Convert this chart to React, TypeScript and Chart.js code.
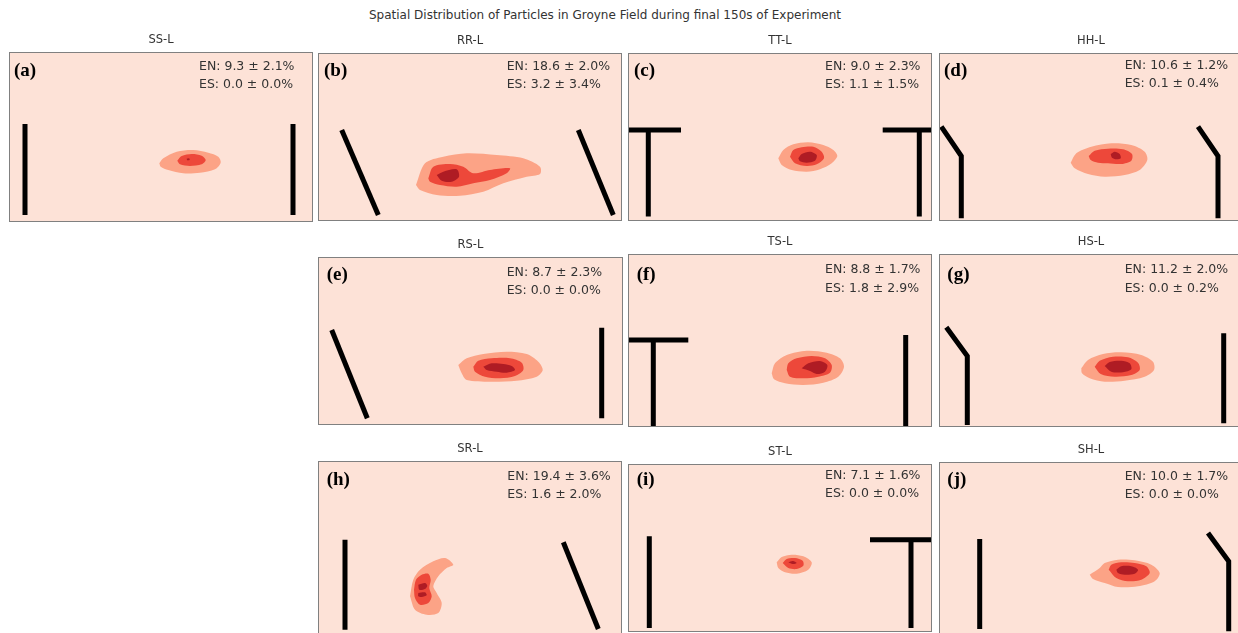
import React, { useEffect, useRef } from "react";
import { Chart, registerables } from "chart.js";

Chart.register(...registerables);

type Pt = [number, number];
type Poly = Pt[];

// ---- panel identity and statistics ----
const PANEL_LETTERS = ["a", "b", "c", "d", "e", "f", "g", "h", "i", "j"];
const PANEL_NAMES = ["SS-L", "RR-L", "TT-L", "HH-L", "RS-L", "TS-L", "HS-L", "SR-L", "ST-L", "SH-L"];
const EN_MEAN = [9.3, 18.6, 9.0, 10.6, 8.7, 8.8, 11.2, 19.4, 7.1, 10.0];
const EN_SD = [2.1, 2.0, 2.3, 1.2, 2.3, 1.7, 2.0, 3.6, 1.6, 1.7];
const ES_MEAN = [0.0, 3.2, 1.1, 0.1, 0.0, 1.8, 0.0, 1.6, 0.0, 0.0];
const ES_SD = [0.0, 3.4, 1.5, 0.4, 0.0, 2.9, 0.2, 2.0, 0.0, 0.0];

// ---- groyne geometry (field units, y measured downward from the top wall) ----
const GROYNES_A: Poly[] = [[[16, 72], [16, 163]], [[284, 72], [284, 163]]];
const GROYNES_B: Poly[] = [[[23.7, 77], [60.3, 162]], [[260.3, 77], [295.3, 162]]];
const GROYNES_C: Poly[] = [[[0, 77], [53, 77]], [[20.3, 77], [20.3, 163.5]], [[254.7, 77], [304, 77]], [[291.3, 77], [291.3, 163.5]]];
const GROYNES_D: Poly[] = [[[2.3, 73.7], [22.3, 103], [22.3, 165.3]], [[259, 73.7], [279, 103], [279, 165.3]]];
const GROYNES_E: Poly[] = [[[13.7, 73], [49.3, 161.3]], [[283.7, 70.7], [283.7, 161.3]]];
const GROYNES_F: Poly[] = [[[0, 86], [60.3, 86]], [[25.3, 86], [25.3, 172]], [[277.7, 81], [277.7, 172]]];
const GROYNES_G: Poly[] = [[[7.3, 73.3], [28.3, 102], [28.3, 171]], [[284.7, 79.3], [284.7, 169.3]]];
const GROYNES_H: Poly[] = [[[27, 78.7], [27, 168.7]], [[245.3, 81.3], [280.3, 168]]];
const GROYNES_I: Poly[] = [[[21.3, 72.3], [21.3, 164]], [[242, 75.7], [304, 75.7]], [[283, 75.7], [283, 164]]];
const GROYNES_J: Poly[] = [[[40.7, 77], [40.7, 167]], [[269, 71], [289.7, 99.3], [289.7, 169.3]]];

// ---- particle density contours: low / mid / high levels ----
const A_LOW: Poly[] = [[[150.3, 111.3], [154.3, 106.3], [167.7, 99.7], [184.3, 98], [199.3, 100.7], [209.3, 104.7], [211.7, 110.7], [206, 117.3], [191, 120.7], [174.3, 121.3], [159.3, 118], [151.7, 114.7]]];
const A_MID: Poly[] = [[[168.3, 108.7], [172.7, 104], [182.7, 102], [192.7, 103.7], [196.7, 108], [192.7, 112.3], [181, 114], [171, 112.3]]];
const A_HIGH: Poly[] = [[[177.8, 106.6], [180.3, 106.4], [180.6, 108], [178.1, 108.2]]];

const B_LOW: Poly[] = [[[98, 132], [107, 110.3], [125.3, 103.7], [148.7, 100.3], [178.7, 102], [205.3, 105.3], [222, 113.7], [222, 121], [208.7, 123.7], [185.3, 130.3], [165.3, 138.7], [142, 142.7], [118.7, 142], [102, 137]]];
const B_MID: Poly[] = [[[110.3, 125.3], [115.3, 113.7], [132, 111], [145.3, 113.7], [155.3, 120.3], [172, 117], [192, 115.3], [188.7, 120.3], [172, 127], [155.3, 130.3], [138.7, 133.7], [122, 132], [112, 128.7]]];
const B_HIGH: Poly[] = [[[118.7, 122], [125.3, 118.7], [138.7, 116.3], [141, 123.7], [133.7, 128.7], [123.7, 127.7]]];

const C_LOW: Poly[] = [[[150.3, 105.3], [155.3, 97], [165.3, 91.3], [180.3, 89.3], [195.3, 92], [205.3, 97], [209.3, 103], [203.7, 110.3], [192, 116.3], [178.7, 118.7], [163.7, 117], [153.7, 112]]];
const C_MID: Poly[] = [[[162, 103.7], [165.3, 97], [173.7, 94.3], [185.3, 93.7], [193.7, 98.7], [196, 105.3], [188.7, 111.3], [178.7, 113], [167, 110.3]]];
const C_HIGH: Poly[] = [[[170.3, 105.3], [173.7, 101], [182, 98.7], [188.7, 102], [187, 107.7], [178.7, 109.7], [172, 108.3]]];

const D_LOW: Poly[] = [[[131.7, 109.7], [137.3, 100.3], [152.3, 93.7], [172.3, 90.3], [192.3, 92], [205.7, 98.7], [208.3, 107], [200.7, 117], [185.7, 122], [165.7, 123.7], [149, 121], [135.7, 115.3]]];
const D_MID: Poly[] = [[[149.7, 103], [155.7, 97.7], [169, 95.7], [184, 96.3], [193, 101], [192.3, 107.7], [182.3, 111], [169, 110.3], [159, 109.7], [151.7, 107]]];
const D_HIGH: Poly[] = [[[171.7, 101], [175.7, 98.7], [180.7, 101], [181.7, 105.3], [177.3, 106.3], [173, 104.7]]];

const E_LOW: Poly[] = [[[140.3, 108], [148.7, 101.3], [165.3, 97], [188.7, 94.7], [208.7, 97], [220.3, 104.7], [224.7, 113], [218.7, 119.7], [198.7, 123.7], [172, 124.7], [148.7, 123], [143.7, 116.3]]];
const E_MID: Poly[] = [[[155.3, 109.7], [160.3, 103.7], [173.7, 101.3], [192, 101.3], [203.7, 105.7], [205.3, 113], [197, 119], [182, 121.3], [167, 119.7], [157, 114.7]]];
const E_HIGH: Poly[] = [[[165.3, 109.7], [173.7, 106.3], [185.3, 107], [193.7, 109], [197, 113], [188.7, 115.7], [178.7, 114.7], [168.7, 113]]];

const F_LOW: Poly[] = [[[143.7, 119.3], [147, 109.3], [158.7, 101], [178.7, 96.7], [198.7, 98.7], [212, 104.3], [216, 112.7], [210.3, 122.7], [195.3, 128.7], [175.3, 131], [157, 129.3], [146, 125.3]]];
const F_MID: Poly[] = [[[158.7, 116], [160.3, 109.3], [168.7, 104.3], [183.7, 102], [197, 104.3], [203.7, 111], [202, 118.7], [190.3, 122.7], [175.3, 124.3], [162, 122.7]]];
const F_HIGH: Poly[] = [[[173.7, 114.3], [180.3, 109.3], [192, 107], [199.3, 111], [197, 117.7], [188.7, 120], [182, 117]]];

const G_LOW: Poly[] = [[[142.3, 114.3], [149, 106], [164, 100], [182.3, 98.3], [202.3, 101], [214, 107.7], [215, 116], [205.7, 122.7], [185.7, 126.7], [165.7, 127.7], [150.7, 124.3], [143, 119.3]]];
const G_MID: Poly[] = [[[155.7, 112.7], [160.7, 106.7], [174, 102.7], [189, 103.3], [199, 108.7], [200.7, 116], [192.3, 121], [175.7, 122.7], [161.7, 120]]];
const G_HIGH: Poly[] = [[[165.7, 112], [170.7, 108], [182.3, 106.7], [190.7, 109.3], [192.3, 115.3], [184, 118.3], [172.3, 117.7]]];

const H_LOW: Poly[] = [[[92, 135.3], [95.3, 118.7], [102, 108.7], [115.3, 100.3], [127, 97], [135.3, 103.7], [128.7, 107], [120.3, 115.3], [115.3, 125.3], [118.7, 132], [123.7, 142], [120.3, 152], [108.7, 153.7], [97, 148.7]]];
const H_MID: Poly[] = [[[96, 128.7], [98, 118.7], [103.7, 113.7], [110.3, 112.7], [112.7, 118.7], [111.3, 127], [113.7, 135.3], [110.3, 142], [102, 143.7], [97, 137]]];
const H_HIGH: Poly[] = [
  [[100.3, 123.7], [107, 122], [109.3, 124.7], [107, 128], [101.3, 128.7]],
  [[100.3, 132], [107, 131.3], [108.7, 134.3], [103.7, 136], [100.3, 135.3]],
];

const I_LOW: Poly[] = [[[148.7, 98.3], [153.7, 93], [163.7, 90.7], [175.3, 92.3], [183.7, 98.3], [180.3, 105.7], [168.7, 109.7], [157, 108.3], [150.3, 104]]];
const I_MID: Poly[] = [[[154.7, 99], [158.7, 95], [167, 94], [174.7, 96.7], [175.3, 101.7], [168.7, 105], [160.3, 104]]];
const I_HIGH: Poly[] = [[[160.3, 98.3], [164.7, 97], [168.7, 99], [164.7, 100]]];

const J_LOW: Poly[] = [[[150.7, 112.7], [160.7, 106], [165.7, 101], [179, 97.7], [195.7, 98.3], [212.3, 102.7], [220.7, 111], [215.7, 119.3], [199, 124.3], [179, 125], [165.7, 121], [154, 117]]];
const J_MID: Poly[] = [[[169.7, 107.7], [172.3, 102.7], [182.3, 100.3], [195.7, 101], [207.3, 104.3], [210.7, 111], [202.3, 117.7], [189, 119.3], [177.3, 116]]];
const J_HIGH: Poly[] = [[[177.3, 107.7], [182.3, 104.3], [192.3, 104.3], [199, 107.7], [195.7, 111.7], [185.7, 112.7], [179, 111]]];

const GROYNES = [GROYNES_A, GROYNES_B, GROYNES_C, GROYNES_D, GROYNES_E, GROYNES_F, GROYNES_G, GROYNES_H, GROYNES_I, GROYNES_J];
const LOW = [A_LOW, B_LOW, C_LOW, D_LOW, E_LOW, F_LOW, G_LOW, H_LOW, I_LOW, J_LOW];
const MID = [A_MID, B_MID, C_MID, D_MID, E_MID, F_MID, G_MID, H_MID, I_MID, J_MID];
const HIGH = [A_HIGH, B_HIGH, C_HIGH, D_HIGH, E_HIGH, F_HIGH, G_HIGH, H_HIGH, I_HIGH, J_HIGH];

// ---- layout: plot box [left, top, width, height] in page pixels ----
const BOX: number[][] = [
  [9, 52, 304, 170],
  [318, 53, 304, 168],
  [628, 53, 304, 168],
  [939, 53, 304, 168],
  [318, 257, 305, 168],
  [628, 254, 304, 173],
  [939, 254, 304, 173],
  [318, 461, 304, 173],
  [628, 464, 304, 168],
  [939, 462, 304, 173],
];
// panel letter [x, yMid] and statistics text [x, yMid line 1, yMid line 2], relative to the box
const LETTER_POS: number[][] = [
  [5, 19], [6, 17.7], [6, 17.7], [5, 17.7], [8.7, 18], [8.7, 21], [8.3, 21], [8.7, 19.3], [8.7, 16.3], [8.3, 18.3],
];
const STAT_POS: number[][] = [
  [190, 15, 33], [188.7, 13.7, 31.3], [197, 13.7, 31.3], [185.7, 13, 31], [188.7, 15.7, 34],
  [197, 16, 34.7], [185.7, 16, 34.3], [189.3, 15.3, 33.7], [197, 11.7, 30], [185.7, 14.3, 32.7],
];

const TITLE_SPACE = 24;
const COLORS = { bg: "#fde2d7", low: "#fca386", mid: "#ed483a", high: "#af1c24" };

function closed(poly: Poly) {
  const pts = poly.map(([x, y]) => ({ x, y }));
  pts.push({ x: poly[0][0], y: poly[0][1] });
  return pts;
}

function Panel({ idx }: { idx: number }) {
  const ref = useRef<HTMLCanvasElement | null>(null);
  const [left, top, w, h] = BOX[idx];

  useEffect(() => {
    const canvas = ref.current;
    if (!canvas) return;

    const datasets: any[] = [];
    const levels: [Poly[][], string, number][] = [
      [LOW, COLORS.low, 3],
      [MID, COLORS.mid, 2],
      [HIGH, COLORS.high, 1],
    ];
    for (const [src, color, order] of levels) {
      for (const poly of src[idx]) {
        datasets.push({
          data: closed(poly),
          backgroundColor: color,
          borderColor: "transparent",
          borderWidth: 0,
          fill: "shape",
          tension: 0.3,
          pointRadius: 0,
          order,
        });
      }
    }
    for (const g of GROYNES[idx]) {
      datasets.push({
        data: g.map(([x, y]) => ({ x, y })),
        borderColor: "#000000",
        borderWidth: 5,
        borderCapStyle: "butt",
        borderJoinStyle: "miter",
        fill: false,
        tension: 0,
        pointRadius: 0,
        order: 0,
      });
    }

    const panelDeco = {
      id: "panelDeco",
      beforeDatasetsDraw(chart: any) {
        const { ctx, chartArea: a } = chart;
        ctx.save();
        ctx.fillStyle = COLORS.bg;
        ctx.fillRect(a.left, a.top, a.right - a.left, a.bottom - a.top);
        ctx.restore();
      },
      afterDatasetsDraw(chart: any) {
        const { ctx, chartArea: a } = chart;
        ctx.save();
        ctx.strokeStyle = "#808080";
        ctx.lineWidth = 1;
        ctx.strokeRect(a.left + 0.5, a.top + 0.5, a.right - a.left - 1, a.bottom - a.top - 1);

        const [lx, ly] = LETTER_POS[idx];
        ctx.fillStyle = "#000";
        ctx.textAlign = "left";
        ctx.textBaseline = "middle";
        ctx.font = 'bold 19px "Liberation Serif", "Times New Roman", serif';
        ctx.fillText(`(${PANEL_LETTERS[idx]})`, a.left + lx, a.top + ly);

        const [sx, sy1, sy2] = STAT_POS[idx];
        ctx.fillStyle = "#333333";
        ctx.font = '12.5px "DejaVu Sans", sans-serif';
        ctx.fillText(`EN: ${EN_MEAN[idx].toFixed(1)} \u00b1 ${EN_SD[idx].toFixed(1)}%`, a.left + sx, a.top + sy1);
        ctx.fillText(`ES: ${ES_MEAN[idx].toFixed(1)} \u00b1 ${ES_SD[idx].toFixed(1)}%`, a.left + sx, a.top + sy2);
        ctx.restore();
      },
    };

    const chart = new Chart(canvas, {
      type: "line",
      data: { datasets },
      options: {
        animation: false,
        responsive: false,
        events: [],
        layout: { padding: 0 },
        plugins: {
          legend: { display: false },
          tooltip: { enabled: false },
          title: {
            display: true,
            text: PANEL_NAMES[idx],
            color: "#333333",
            font: { family: '"DejaVu Sans", sans-serif', size: 11.5, weight: "normal", lineHeight: 1.2 },
            padding: { top: 5.5, bottom: 4.7 },
          },
        },
        scales: {
          x: { type: "linear", display: false, min: 0, max: w },
          y: { type: "linear", display: false, min: 0, max: h, reverse: true },
        },
      } as any,
      plugins: [panelDeco],
    });
    return () => chart.destroy();
  }, [idx]);

  return (
    <canvas
      ref={ref}
      width={w}
      height={h + TITLE_SPACE}
      style={{ position: "absolute", left, top: top - TITLE_SPACE, width: w, height: h + TITLE_SPACE }}
    />
  );
}

export default function App() {
  return (
    <div style={{ position: "absolute", left: 0, top: 0, width: 1238, height: 633, overflow: "hidden", background: "#ffffff" }}>
      <div
        style={{
          position: "absolute",
          left: 605,
          top: 7,
          transform: "translateX(-50%)",
          whiteSpace: "nowrap",
          font: '12px "DejaVu Sans", sans-serif',
          lineHeight: "16px",
          color: "#333333",
        }}
      >
        Spatial Distribution of Particles in Groyne Field during final 150s of Experiment
      </div>
      {PANEL_NAMES.map((_, i) => (
        <Panel key={i} idx={i} />
      ))}
    </div>
  );
}
